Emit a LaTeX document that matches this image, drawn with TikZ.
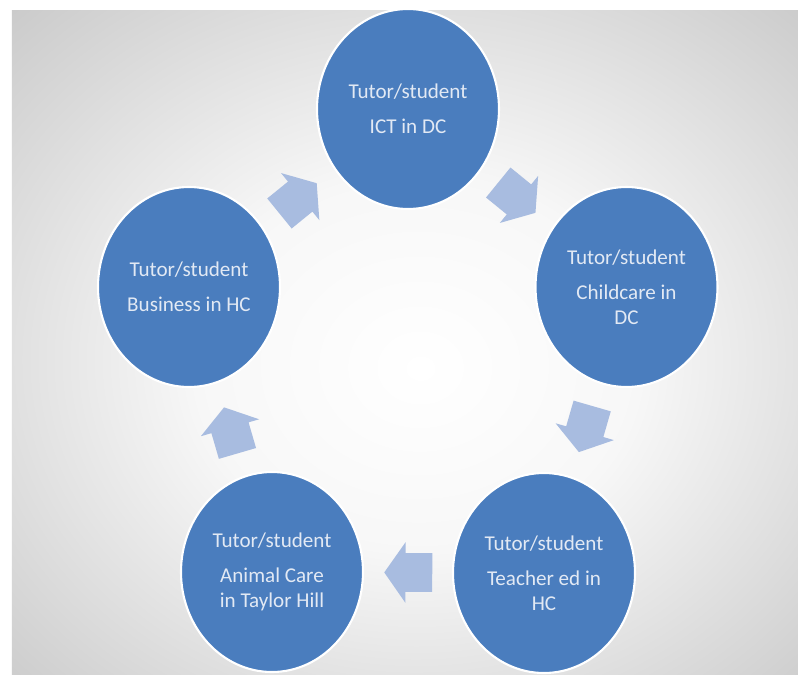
\documentclass[tikz,border=0pt]{standalone}
\usepackage{fontspec}
\setmainfont{Carlito}
\usetikzlibrary{shapes.geometric,shapes.arrows}

\definecolor{cycblue}{RGB}{74,125,190}
\definecolor{cyctext}{RGB}{226,233,244}
\definecolor{cycarrow}{RGB}{168,188,224}
\pgfdeclareradialshading{bgglow}{\pgfpoint{1bp}{-2bp}}%
  {rgb(0bp)=(1,1,1); rgb(14bp)=(0.97,0.97,0.97); rgb(50bp)=(0.69,0.69,0.69); rgb(72bp)=(0.62,0.62,0.62)}

\begin{document}
\begin{tikzpicture}[
    font=\fontsize{12}{14.4}\selectfont,
    stage/.style={ellipse, draw=white, line width=1.2pt, fill=cycblue,
                  minimum width=3.64cm, minimum height=4cm,
                  align=center, text=cyctext, inner sep=0pt},
    cyclearrow/.style={single arrow, fill=cycarrow, draw=none,
                  minimum width=1.2cm, minimum height=0.96cm,
                  single arrow head extend=0.22cm, single arrow tip angle=110,
                  inner xsep=0pt, inner ysep=0.38cm}
  ]

  %% ── Background ──
  \useasboundingbox (-8.16,-6.18) rectangle (7.8,7.32);
  \fill[white] (-8.16,-6.18) rectangle (7.8,7.32);
  \shade[shading=bgglow] (-7.92,-6.16) rectangle (7.8,7.12);

  %% ── Stages ──
  \node[stage] (ict)      at ( 0.00, 5.14) {Tutor/student\\[5.5pt]ICT in DC};
  \node[stage] (child)    at ( 4.37, 1.58) {Tutor/student\\[5.5pt]Childcare in\\DC};
  \node[stage] (teacher)  at ( 2.72,-4.14) {Tutor/student\\[5.5pt]Teacher ed in\\HC};
  \node[stage] (animal)   at (-2.72,-4.12) {Tutor/student\\[5.5pt]Animal Care\\in Taylor Hill};
  \node[stage] (business) at (-4.38, 1.58) {Tutor/student\\[5.5pt]Business in HC};

  %% ── Cycle arrows ──
  \path (ict) -- (child)
    node[pos=0.42, sloped, allow upside down, cyclearrow] (a1) {};
  \path (child) -- (teacher)
    node[pos=0.42, sloped, allow upside down, cyclearrow] (a2) {};
  \path (teacher) -- (animal)
    node[pos=0.42, sloped, allow upside down, cyclearrow] (a3) {};
  \path (animal) -- (business)
    node[pos=0.42, sloped, allow upside down, cyclearrow] (a4) {};
  \path (business) -- (ict)
    node[pos=0.42, sloped, allow upside down, cyclearrow] (a5) {};

\end{tikzpicture}
\end{document}
